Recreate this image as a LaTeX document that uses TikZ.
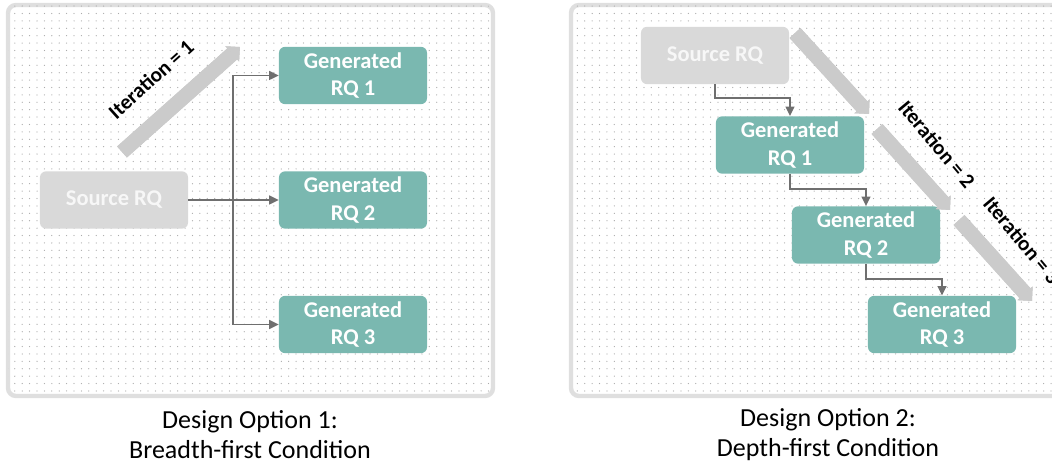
\documentclass[tikz,border=0pt]{standalone}
\usepackage{fontspec}
\setmainfont{Carlito}
\usetikzlibrary{arrows.meta, patterns.meta}

\definecolor{rqteal}{HTML}{7AB8B0}
\definecolor{rqgrey}{HTML}{D9D9D9}
\definecolor{linkgrey}{HTML}{6F6F6F}
\definecolor{itergrey}{HTML}{CBCBCB}
\definecolor{panelgrey}{HTML}{DFDFDF}

\begin{document}
\begin{tikzpicture}[
    x = 0.025cm, y = -0.025cm,
    %
    panel/.style = {draw = panelgrey, line width = 0.11cm,
      rounded corners = 0.2cm, fill = white,
      postaction = {pattern = {Dots[radius = 0.45pt, distance = 0.185cm]},
        pattern color = black!33}},
    %
    rq/.style = {rounded corners = 0.15cm,
      minimum width = 3.7cm, minimum height = 1.43cm,
      inner sep = 0pt, align = center, text = white,
      font = \bfseries\fontsize{16}{19.5}\selectfont},
    source/.style = {rq, fill = rqgrey, text = white!97!black},
    generated/.style = {rq, fill = rqteal},
    %
    link/.style = {draw = linkgrey, line width = 1.4pt,
      -{Triangle[length = 0.24cm, width = 0.22cm]}},
    iter/.style = {itergrey, line width = 0.37cm,
      -{Triangle[length = 0.26cm, width = 0.5cm]}},
    itershadow/.style = {iter, black!45, opacity = 0.4,
      shift = {(0.05cm, -0.06cm)}},
    iterlabel/.style = {font = \bfseries\fontsize{15}{17}\selectfont},
    caption/.style = {align = center,
      font = \fontsize{18.5}{21.3}\selectfont},
    ]

    \useasboundingbox (0, 0) rectangle (1052, 465);
    \clip (0, 0) rectangle (1052, 465);

    \path [panel] (8, 5) rectangle (493, 396);
    \path [panel] (571, 5) rectangle (1075, 396);

    % breadth-first
    \node at (114, 200)
    [source, name = src_b] {Source RQ};
    \node at (353, 75.5)
    [generated, name = gen_b1] {Generated\\RQ 1};
    \node at (353, 200)
    [generated, name = gen_b2] {Generated\\RQ 2};
    \node at (353, 324.5)
    [generated, name = gen_b3] {Generated\\RQ 3};

    \draw [link] (src_b) -- (gen_b2);
    \draw [link] (src_b.east) -- ++(45, 0) |- (gen_b1);
    \draw [link] (src_b.east) -- ++(45, 0) |- (gen_b3);

    \coordinate (iter_b1_from) at (122, 152);
    \coordinate (iter_b1_to) at (240, 47);
    \draw [itershadow] (iter_b1_from) -- (iter_b1_to);
    \draw [iter] (iter_b1_from) -- (iter_b1_to);
    \node at (151, 79)
    [iterlabel, rotate = 42, name = lab_b1] {Iteration = 1};

    % depth-first
    \node at (715, 55.5)
    [source, name = src_d] {Source RQ};
    \node at (790, 145)
    [generated, name = gen_d1] {Generated\\RQ 1};
    \node at (866, 235)
    [generated, name = gen_d2] {Generated\\RQ 2};
    \node at (942, 324.5)
    [generated, name = gen_d3] {Generated\\RQ 3};

    \draw [link] (src_d.south) -- ++(0, 14) -| (gen_d1.north);
    \draw [link] (gen_d1.south) -- ++(0, 15) -| (gen_d2.north);
    \draw [link] (gen_d2.south) -- ++(0, 15) -| (gen_d3.north);

    \coordinate (iter_d1_from) at (795, 33);
    \coordinate (iter_d1_to) at (869, 114);
    \coordinate (iter_d2_from) at (877, 129);
    \coordinate (iter_d2_to) at (950, 210);
    \coordinate (iter_d3_from) at (959, 220);
    \coordinate (iter_d3_to) at (1032, 301);
    \draw [itershadow] (iter_d1_from) -- (iter_d1_to);
    \draw [iter] (iter_d1_from) -- (iter_d1_to);
    \draw [itershadow] (iter_d2_from) -- (iter_d2_to);
    \draw [iter] (iter_d2_from) -- (iter_d2_to);
    \draw [itershadow] (iter_d3_from) -- (iter_d3_to);
    \draw [iter] (iter_d3_from) -- (iter_d3_to);

    \node at (937, 144)
    [iterlabel, rotate = -50, name = lab_d2] {Iteration = 2};
    \node at (1022, 240)
    [iterlabel, rotate = -50, name = lab_d3] {Iteration = 3};

    % captions
    \node at (250, 435)
    [caption, name = cap_b] {Design Option 1:\\Breadth-first Condition};
    \node at (828, 435)
    [caption, name = cap_d] {Design Option 2:\\Depth-first Condition};

  \end{tikzpicture}
\end{document}
